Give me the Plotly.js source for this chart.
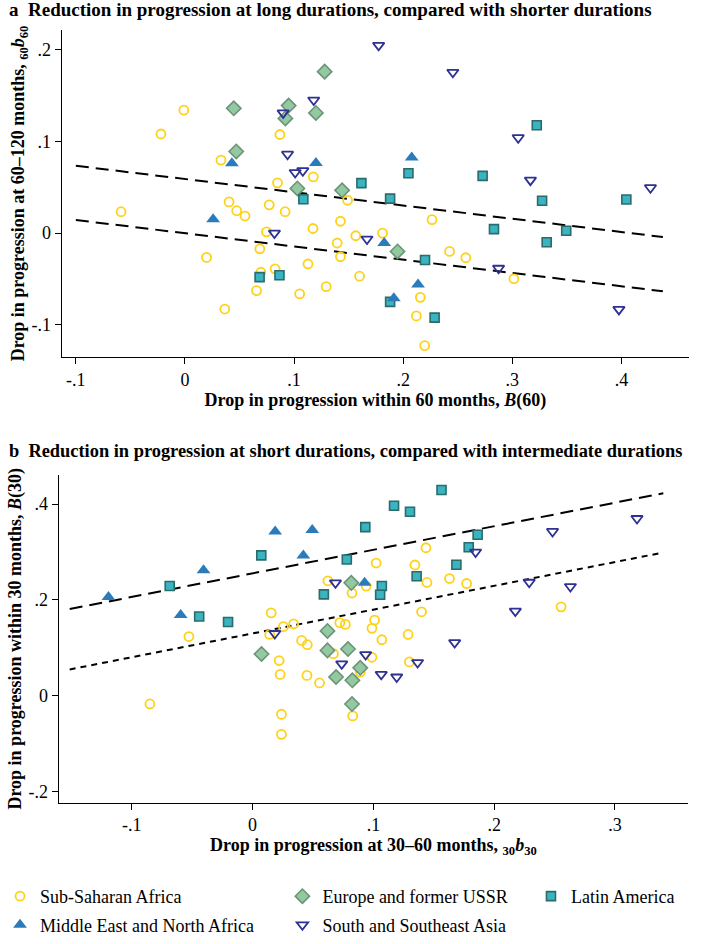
<!DOCTYPE html>
<html>
<head>
<meta charset="utf-8">
<script src="https://cdn.plot.ly/plotly-3.0.1.min.js"></script>
<style>html,body{margin:0;padding:0;background:#fff;}#chart{width:703px;height:944px;}</style>
</head>
<body>
<div id="chart"></div>
<script>
// ---------- Panel a data ----------
const groupNames = ["Sub-Saharan Africa", "Europe and former USSR", "Latin America", "Middle East and North Africa", "South and Southeast Asia"];

const a_ssa_x = [-0.001,-0.022,0.087,0.033,0.1176,0.0848,0.149,-0.0586,0.0404,0.0474,0.055,0.0772,0.0918,0.0747,0.1173,0.1425,0.1395,0.1565,0.1811,0.1425,0.0686,0.0198,0.0696,0.0826,0.1127,0.160,0.0656,0.1051,0.1294,0.0365,0.2264,0.2425,0.2574,0.3014,0.2157,0.2121,0.2197];
const a_ssa_y = [0.134,0.108,0.1075,0.0796,0.0613,0.0548,0.0358,0.0233,0.034,0.0244,0.0186,0.0308,0.0233,0.0014,0.005,0.0129,-0.0108,-0.0029,0.0,-0.0258,-0.0172,-0.0265,-0.0427,-0.039,-0.0337,-0.047,-0.0627,-0.0663,-0.0584,-0.0828,0.0147,-0.020,-0.0269,-0.0498,-0.070,-0.0903,-0.1226];

const a_eur_x = [0.128,0.0447,0.095,0.092,0.120,0.047,0.103,0.144,0.1948];
const a_eur_y = [0.176,0.136,0.139,0.125,0.131,0.089,0.0487,0.0466,-0.020];

const a_lat_x = [0.1617,0.1085,0.0684,0.0866,0.3224,0.2048,0.2728,0.188,0.3273,0.4045,0.2832,0.3494,0.3315,0.220,0.188,0.2288];
const a_lat_y = [0.0545,0.0369,-0.048,-0.0459,0.1176,0.0652,0.0624,0.0376,0.0352,0.0366,0.0043,0.0025,-0.010,-0.0294,-0.075,-0.0921];

const a_mena_x = [0.043,0.120,0.0258,0.2078,0.1826,0.2136,0.1914];
const a_mena_y = [0.076,0.0763,0.015,0.0824,-0.0108,-0.056,-0.071];

const a_asia_x = [0.1775,0.2455,0.090,0.118,0.094,0.101,0.108,0.3054,0.3166,0.4266,0.082,0.1668,0.2874,0.3977];
const a_asia_y = [0.2046,0.1753,0.131,0.145,0.086,0.066,0.068,0.104,0.0577,0.0495,0.0,-0.0065,-0.0383,-0.0832];

const a_fit1_x = [-0.1, 0.438], a_fit1_y = [0.0734, -0.0043];
const a_fit2_x = [-0.1, 0.438], a_fit2_y = [0.0143, -0.0634];

const a_xticks = [-0.1,0,0.1,0.2,0.3,0.4], a_xlabels = ["-.1","0",".1",".2",".3",".4"];
const a_yticks = [-0.1,0,0.1,0.2], a_ylabels = ["-.1","0",".1",".2"];

// ---------- Panel b data ----------
const b_ssa_x = [0.1023,0.0623,0.094,0.0823,0.1435,0.1344,0.1443,0.163,0.1772,-0.0527,0.0154,0.0142,0.0255,0.034,0.0406,0.0453,0.022,0.0228,0.045,0.0554,0.0669,0.0891,0.0829,0.0988,0.0722,0.0768,0.101,0.0988,0.107,-0.085,0.0239,0.0239,0.1399,0.2554,0.1287,0.1298];
const b_ssa_y = [0.277,0.24,0.229,0.2144,0.309,0.273,0.2365,0.2447,0.2344,0.1237,0.173,0.128,0.1443,0.15,0.1155,0.1066,0.0736,0.0447,0.0426,0.0268,0.088,0.0495,-0.0419,0.0804,0.1526,0.149,0.158,0.1408,0.117,-0.017,-0.0385,-0.0804,0.1753,0.1856,0.128,0.0707];

const b_eur_x = [0.0817,0.0074,0.062,0.062,0.079,0.0891,0.0691,0.0826,0.0823];
const b_eur_y = [0.2357,0.0873,0.1354,0.0948,0.0976,0.0584,0.0392,0.0323,-0.0172];

const b_lat_x = [0.0933,0.0072,0.078,-0.0686,0.059,0.107,0.1056,0.1564,0.1171,0.1303,0.1863,0.1789,0.1687,0.1358,-0.0442,-0.0203];
const b_lat_y = [0.352,0.293,0.2845,0.229,0.2117,0.229,0.211,0.4295,0.3965,0.384,0.336,0.31,0.2736,0.2495,0.1656,0.154];

const b_mena_x = [0.0187,0.0494,0.042,-0.0406,-0.1193,0.0927,-0.0595];
const b_mena_y = [0.343,0.346,0.293,0.262,0.206,0.2357,0.1684];

const b_asia_x = [0.0686,0.1846,0.2483,0.3182,0.229,0.2631,0.0184,0.0738,0.0936,0.1065,0.2175,0.1673,0.1366,0.1193];
const b_asia_y = [0.2357,0.300,0.343,0.370,0.237,0.228,0.130,0.0667,0.086,0.0447,0.1767,0.111,0.0694,0.0392];

const b_fit1_x = [-0.1514, 0.340], b_fit1_y = [0.181, 0.4227];
const b_fit2_x = [-0.1514, 0.340], b_fit2_y = [0.055, 0.299];

const b_xticks = [-0.1,0,0.1,0.2,0.3], b_xlabels = ["-.1","0",".1",".2",".3"];
const b_yticks = [-0.2,0,0.2,0.4], b_ylabels = ["-.2","0",".2",".4"];

// ---------- styles ----------
const W = 703, H = 944;
const FONT = "Liberation Serif, Times New Roman, serif";
const styles = [
  {symbol:"circle-open", size:9, color:"#FFD21A", line:{color:"#FFD21A", width:1.8}},
  {symbol:"diamond", size:11, color:"#93C9A1", line:{color:"#6B9478", width:1.6}},
  {symbol:"square", size:9, color:"#3BB4C1", line:{color:"#2B6B6B", width:1.6}},
  {symbol:"triangle-up", size:12, color:"#2B7BBA", line:{color:"#2B7BBA", width:0}},
  {symbol:"triangle-down-open", size:10, color:"#2E3192", line:{color:"#2E3192", width:1.8}}
];
const aData = [[a_ssa_x,a_ssa_y],[a_eur_x,a_eur_y],[a_lat_x,a_lat_y],[a_mena_x,a_mena_y],[a_asia_x,a_asia_y]];
const bData = [[b_ssa_x,b_ssa_y],[b_eur_x,b_eur_y],[b_lat_x,b_lat_y],[b_mena_x,b_mena_y],[b_asia_x,b_asia_y]];
const legendIds = ["legend","legend2","legend3","legend4","legend5"];
const drawOrder = [0,1,2,4,3];

const traces = [];
traces.push({x:a_fit1_x, y:a_fit1_y, xaxis:"x", yaxis:"y", mode:"lines", line:{color:"#000", width:2, dash:"13px,7px"}, showlegend:false, hoverinfo:"skip"});
traces.push({x:a_fit2_x, y:a_fit2_y, xaxis:"x", yaxis:"y", mode:"lines", line:{color:"#000", width:2, dash:"13px,7px"}, showlegend:false, hoverinfo:"skip"});
traces.push({x:b_fit1_x, y:b_fit1_y, xaxis:"x2", yaxis:"y2", mode:"lines", line:{color:"#000", width:2, dash:"13px,7px"}, showlegend:false, hoverinfo:"skip"});
traces.push({x:b_fit2_x, y:b_fit2_y, xaxis:"x2", yaxis:"y2", mode:"lines", line:{color:"#000", width:2, dash:"6px,5px"}, showlegend:false, hoverinfo:"skip"});

drawOrder.forEach(i => {
  traces.push({x:aData[i][0], y:aData[i][1], xaxis:"x", yaxis:"y", mode:"markers", name:groupNames[i],
    marker:styles[i], legend:legendIds[i], showlegend:true, cliponaxis:false});
});
drawOrder.forEach(i => {
  traces.push({x:bData[i][0], y:bData[i][1], xaxis:"x2", yaxis:"y2", mode:"markers", name:groupNames[i],
    marker:styles[i], showlegend:false, cliponaxis:false});
});

function py(p){ return (H - p)/H; }
function px(p){ return p/W; }

const axisBase = {showgrid:false, zeroline:false, showline:true, linecolor:"#000", linewidth:1,
  ticks:"outside", ticklen:6, tickcolor:"#000", tickwidth:1, mirror:false,
  tickfont:{family:FONT, size:18, color:"#000"}, tickmode:"array"};

function leg(x, yPix){
  return {x:px(x), xanchor:"left", y:py(yPix), yanchor:"middle", orientation:"v",
    font:{family:FONT, size:18, color:"#000"}, bgcolor:"rgba(0,0,0,0)", borderwidth:0};
}

const layout = {
  width:W, height:H, margin:{l:0,r:0,t:0,b:0}, paper_bgcolor:"#fff", plot_bgcolor:"#fff",
  font:{family:FONT, color:"#000"},
  xaxis: Object.assign({}, axisBase, {domain:[px(58), px(689)], range:[-0.113, 0.462], anchor:"y",
    tickvals:a_xticks, ticktext:a_xlabels,
    title:{text:"<b>Drop in progression within 60 months, <i>B</i>(60)</b>", font:{family:FONT, size:18}, standoff:4}}),
  yaxis: Object.assign({}, axisBase, {domain:[py(362), py(30)], range:[-0.1355, 0.2218], anchor:"x",
    tickvals:a_yticks, ticktext:a_ylabels, tickangle:0,
    title:{text:"<b>Drop in progression at 60–120 months, <sub>60</sub><i>b</i><sub>60</sub></b>", font:{family:FONT, size:18}, standoff:2}}),
  xaxis2: Object.assign({}, axisBase, {domain:[px(55), px(688)], range:[-0.1605, 0.3605], anchor:"y2",
    tickvals:b_xticks, ticktext:b_xlabels,
    title:{text:"<b>Drop in progression at 30–60 months, <sub>30</sub><i>b</i><sub>30</sub></b>", font:{family:FONT, size:18}, standoff:4}}),
  yaxis2: Object.assign({}, axisBase, {domain:[py(813), py(481)], range:[-0.223, 0.461], anchor:"x2",
    tickvals:b_yticks, ticktext:b_ylabels, tickangle:0,
    title:{text:"<b>Drop in progression within 30 months, <i>B</i>(30)</b>", font:{family:FONT, size:18}, standoff:2}}),
  legend: leg(-4, 908),
  legend2: leg(280, 908),
  legend3: leg(530, 908),
  legend4: leg(-4, 937),
  legend5: leg(280, 937),
  annotations:[
    {xref:"paper", yref:"paper", x:px(3), y:py(10), xanchor:"left", yanchor:"middle", showarrow:false,
     text:"<b>a  Reduction in progression at long durations, compared with shorter durations</b>", font:{family:FONT, size:19, color:"#000"}},
    {xref:"paper", yref:"paper", x:px(3), y:py(457), xanchor:"left", yanchor:"middle", showarrow:false,
     text:"<b>b  Reduction in progression at short durations, compared with intermediate durations</b>", font:{family:FONT, size:18.4, color:"#000"}}
  ],
  showlegend:true
};

Plotly.newPlot("chart", traces, layout, {displayModeBar:false, staticPlot:true});
</script>
</body>
</html>
